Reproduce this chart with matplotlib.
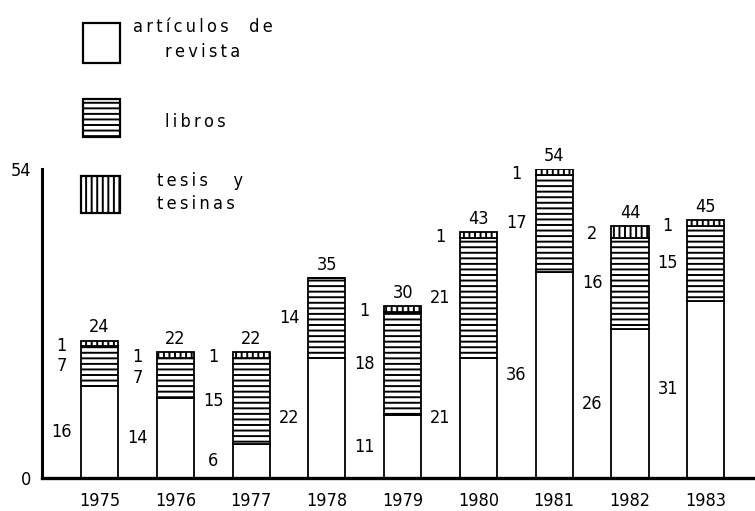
import matplotlib
matplotlib.use("Agg")
import matplotlib.pyplot as plt
from matplotlib.patches import Rectangle

# data
years = ["1975", "1976", "1977", "1978", "1979", "1980", "1981", "1982", "1983"]
articulos = [16, 14, 6, 21, 11, 21, 36, 26, 31]
libros = [7, 7, 15, 14, 18, 21, 17, 16, 13]
tesis = [1, 1, 1, 0, 1, 1, 1, 2, 1]

# numbers as they are printed next to the bars
art_txt = ["16", "14", "6", "22", "11", "21", "36", "26", "31"]
lib_txt = ["7", "7", "15", "14", "18", "21", "17", "16", "15"]
tes_txt = ["1", "1", "1", "", "1", "1", "1", "2", "1"]
totales = ["24", "22", "22", "35", "30", "43", "54", "44", "45"]

plt.rcParams["hatch.linewidth"] = 1.4
font = dict(family="DejaVu Sans", fontstretch="condensed", fontsize=13)


def spaced(s):
    # old typewriter-ish letter spacing of the legend
    return "\u2009".join(s)


fig = plt.figure(figsize=(7.55, 5.11), dpi=100)
ax = fig.add_axes([42 / 755, 33 / 511, 713 / 755, 309 / 511])
ax.patch.set_visible(False)

x = list(range(len(years)))
w = 0.49
base2 = [a + b for a, b in zip(articulos, libros)]
ax.bar(x, articulos, w, color="white", edgecolor="black", linewidth=1.3)
ax.bar(x, libros, w, bottom=articulos, color="white", edgecolor="black",
       linewidth=1.3, hatch="---")
ax.bar(x, tesis, w, bottom=base2, color="white", edgecolor="black",
       linewidth=1.3, hatch="|||")

for i in x:
    lx = i - 0.5
    ax.text(lx, articulos[i] / 2, art_txt[i], ha="center", va="center", **font)
    ax.text(lx, articulos[i] + libros[i] / 2, lib_txt[i], ha="center", va="center", **font)
    if tes_txt[i]:
        ax.text(lx, base2[i] + tesis[i] / 2 - 0.4, tes_txt[i], ha="center", va="center", **font)
    ax.annotate(totales[i], (i, base2[i] + tesis[i]), xytext=(0, 3),
                textcoords="offset points", ha="center", va="bottom", **font)

ax.set_xlim(-0.76, 8.65)
ax.set_ylim(0, 54)
ax.spines["top"].set_visible(False)
ax.spines["right"].set_visible(False)
ax.spines["left"].set_linewidth(2.2)
ax.spines["bottom"].set_linewidth(2.4)
ax.set_xticks(x)
ax.set_xticklabels(years)
ax.set_yticks([0, 54])
ax.set_yticklabels(["0", "54"])
ax.tick_params(axis="x", length=0, pad=10)
ax.tick_params(axis="y", length=0, pad=8)
for lab in ax.get_xticklabels() + ax.get_yticklabels():
    lab.set_fontfamily("DejaVu Sans")
    lab.set_fontstretch("condensed")
    lab.set_fontsize(13)

# legend drawn in pixel coordinates on an overlay
lg = fig.add_axes([0, 0, 1, 1])
lg.set_xlim(0, 755)
lg.set_ylim(511, 0)
lg.axis("off")
lg.add_patch(Rectangle((83, 23), 37, 40, facecolor="white", edgecolor="black", linewidth=1.6))
lg.add_patch(Rectangle((83, 99), 37, 38, facecolor="white", edgecolor="black", linewidth=1.6, hatch="---"))
lg.add_patch(Rectangle((81, 176), 39, 37, facecolor="white", edgecolor="black", linewidth=1.6, hatch="|||"))
lg.text(133, 27, spaced("artículos") + "    " + spaced("de"), ha="left", va="center", **font)
lg.text(165, 52, spaced("revista"), ha="left", va="center", **font)
lg.text(165, 122, spaced("libros"), ha="left", va="center", **font)
lg.text(157, 181, spaced("tesis") + "     y", ha="left", va="center", **font)
lg.text(157, 204, spaced("tesinas"), ha="left", va="center", **font)

fig.savefig("out.png", dpi=100)
